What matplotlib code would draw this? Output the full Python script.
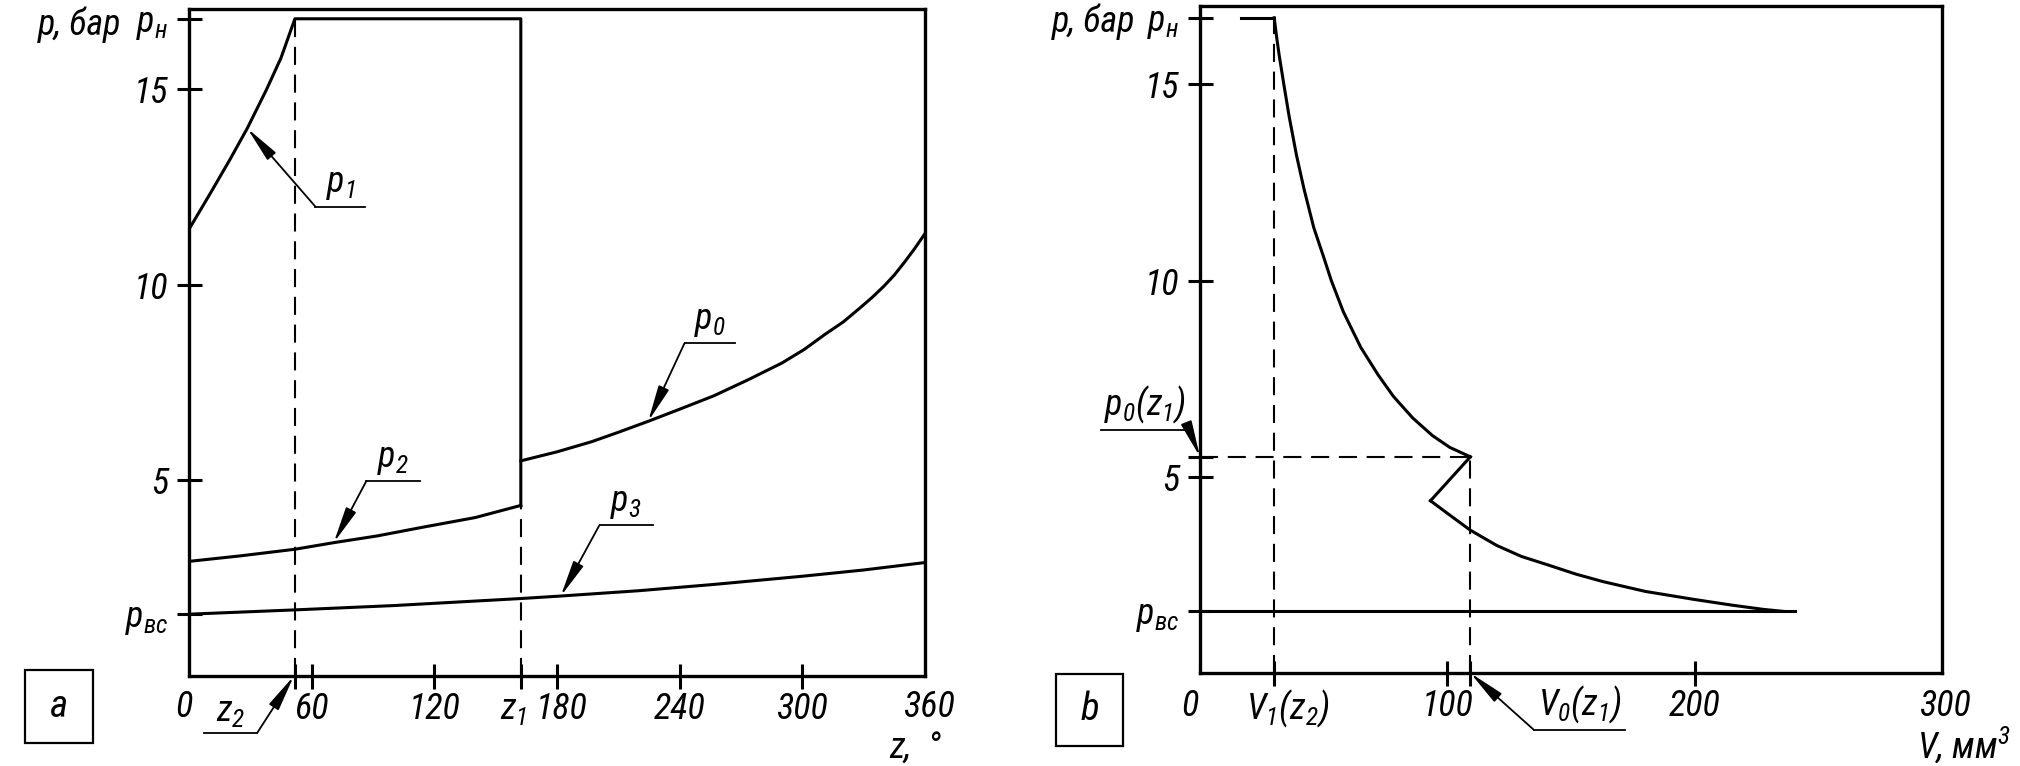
import matplotlib
matplotlib.use('Agg')
import matplotlib.pyplot as plt
from matplotlib import font_manager as fm
from matplotlib.patches import Rectangle
from matplotlib.transforms import ScaledTranslation

# pick a narrow face if one is installed (drawing font in reference is a narrow engineering italic)
_names = {f.name for f in fm.fontManager.ttflist}
FAM, STRETCH, NARROW = 'Liberation Sans', 'normal', False
for cand in ['Liberation Sans Narrow', 'Roboto Condensed', 'Open Sans Condensed']:
    if cand in _names:
        FAM, STRETCH, NARROW = cand, 'normal', True
        break
else:
    for f in fm.fontManager.ttflist:
        if f.name == 'DejaVu Sans' and str(f.stretch) in ('condensed', 'semi-condensed', '75', '87'):
            FAM, STRETCH, NARROW = 'DejaVu Sans', 'condensed', True
            break

plt.rcParams['font.family'] = [FAM, 'DejaVu Sans']
plt.rcParams['font.style'] = 'italic'
plt.rcParams['font.stretch'] = STRETCH
plt.rcParams['mathtext.fontset'] = 'custom'
_spec = f'{FAM}:italic:stretch={STRETCH}'
plt.rcParams['mathtext.it'] = _spec
plt.rcParams['mathtext.rm'] = _spec
plt.rcParams['mathtext.sf'] = _spec
plt.rcParams['mathtext.bf'] = _spec
plt.rcParams['lines.scale_dashes'] = False

# ---------------- data: panel a (p vs angle z) ----------------
Z2 = 51.8
Z1 = 162.3
P_N_A = 16.8
P_VS_A = 1.58
z_p1 = [0, 10, 20, 28.5, 38, 45, 51.8]
p1 = [11.42, 12.3, 13.2, 14.0, 15.0, 15.8, 16.8]
z_p2 = [0, 25, 51.8, 71, 92, 114, 140, 162.3]
p2 = [2.93, 3.07, 3.24, 3.41, 3.58, 3.80, 4.05, 4.36]
z_p0 = [162.3, 180, 197, 210, 224.6, 240, 256.6, 273, 290, 301, 311, 320, 328, 334, 340, 345, 350, 355, 360]
p0 = [5.50, 5.73, 5.99, 6.23, 6.51, 6.82, 7.16, 7.56, 8.0, 8.35, 8.73, 9.05, 9.4, 9.67, 9.97, 10.25, 10.58, 10.93, 11.31]
z_p3 = [0, 51.8, 100, 162.3, 180.6, 220, 256.6, 300, 330, 360]
p3 = [1.58, 1.69, 1.80, 1.98, 2.04, 2.18, 2.34, 2.55, 2.71, 2.90]
a_xticks = [Z2, 60, 120, Z1, 180, 240, 300]
a_xticklabels = ['', '60', '120', '$z_1$', '180', '240', '300']
a_yticks = [P_VS_A, 5, 10, 15, P_N_A]
a_yticklabels = ['$p_{вс}$', '5', '10', '15', '$p_{н}$']

# ---------------- data: panel b (p vs volume V) ----------------
V1 = 30.0
V0 = 109.3
P_N_B = 16.7
P_VS_B = 1.57
P0_Z1 = 5.51
V_start_top = 16.7
V_vs_end = 240.6
v_exp = [30.0, 31.0, 32.0, 33.9, 36.0, 39.0, 42.0, 46.0, 50.0, 53.1, 58.0, 65.0, 72.0, 78.2, 86.0, 94.0, 101.0, 109.3]
p_exp = [16.7, 16.2, 15.75, 15.0, 14.2, 13.2, 12.35, 11.35, 10.6, 10.0, 9.2, 8.3, 7.6, 7.05, 6.5, 6.05, 5.75, 5.51]
v_notch = [109.3, 93.2]
p_notch = [5.51, 4.39]
v_low = [93.2, 100, 109.3, 120, 130, 141.4, 152, 162.9, 180, 199.3, 215, 228, 236]
p_low = [4.39, 4.07, 3.64, 3.25, 2.97, 2.74, 2.52, 2.33, 2.08, 1.88, 1.73, 1.62, 1.57]
b_xticks = [V1, 100, V0, 200]
b_xticklabels = ['$V_1(z_2)$', '100', '', '200']
b_yticks = [P_VS_B, 5, P0_Z1, 10, 15, P_N_B]
b_yticklabels = ['$p_{вс}$', '5', '', '10', '15', '$p_{н}$']

W, H = 2020, 766
fig = plt.figure(figsize=(W / 100, H / 100), dpi=100)

def fx(px):
    return px / W

def fy(py):
    return 1 - py / H

LW = 2.2
DASH = (13, 7)
TICKFS = 26 if NARROW else 21
LBLFS = 26 if NARROW else 22

def style_axes(ax):
    for s in ax.spines.values():
        s.set_linewidth(2.4)
    ax.tick_params(direction='inout', length=18, width=2.2, labelsize=TICKFS)
    ax.tick_params(axis='x', pad=2)
    ax.tick_params(axis='y', pad=6)

def nudge_xlabel(ax, index, dx_pt):
    tick = ax.xaxis.get_major_ticks()[index]
    lab = tick.label1
    lab.set_transform(lab.get_transform() + ScaledTranslation(dx_pt / 72, 0, fig.dpi_scale_trans))

ARROW = dict(arrowstyle='-|>,head_length=1.1,head_width=0.17', lw=1.3, color='black',
             mutation_scale=20, shrinkA=0, shrinkB=0)

def leader(ax, label, tip, shelf_x0, shelf_x1, shelf_y, side='left', fs=LBLFS):
    start = (shelf_x0, shelf_y) if side == 'left' else (shelf_x1, shelf_y)
    ax.plot([shelf_x0, shelf_x1], [shelf_y, shelf_y], color='black', lw=1.3, clip_on=False)
    ax.annotate('', xy=tip, xytext=start, arrowprops=ARROW, annotation_clip=False)
    ax.annotate(label, xy=((shelf_x0 + shelf_x1) / 2, shelf_y), xytext=(0, 3),
                textcoords='offset points', ha='center', va='bottom', fontsize=fs,
                annotation_clip=False)

# ================= panel a =================
axa = fig.add_axes([fx(189), fy(676), fx(925) - fx(189), fy(9) - fy(676)])
axa.set_xlim(0, 360)
axa.set_ylim(0, 17.05)
style_axes(axa)

axa.plot(z_p1 + [Z1, Z1], p1 + [P_N_A, p2[-1]], color='black', lw=LW)
axa.plot(z_p2, p2, color='black', lw=LW)
axa.plot(z_p0, p0, color='black', lw=LW)
axa.plot(z_p3, p3, color='black', lw=LW)
axa.plot([Z2, Z2], [0, P_N_A], color='black', lw=1.5, dashes=DASH)
axa.plot([Z1, Z1], [0, p2[-1]], color='black', lw=1.5, dashes=DASH)

axa.set_xticks(a_xticks)
axa.set_xticklabels(a_xticklabels)
axa.set_yticks(a_yticks)
axa.set_yticklabels(a_yticklabels)
nudge_xlabel(axa, 3, -5)
nudge_xlabel(axa, 4, 3)

leader(axa, '$p_1$', (28.5, 14.0), 61.8, 86.3, 12.0)
leader(axa, '$p_0$', (224.6, 6.51), 242.4, 266.9, 8.51)
leader(axa, '$p_2$', (70.8, 3.41), 86.7, 112.9, 4.98)
leader(axa, '$p_3$', (181.8, 2.04), 200.8, 226.9, 3.86)
leader(axa, '$z_2$', (51.3, 0), 7.5, 33.4, -1.45, side='right')

axa.text(-2.5, -0.8, '0', ha='center', va='center', fontsize=TICKFS)
axa.text(362, -0.8, '360', ha='center', va='center', fontsize=TICKFS)

fig.text(fx(80), fy(25), 'р, бар', ha='center', va='center', fontsize=TICKFS)
fig.text(fx(915), fy(748), 'z,  °', ha='center', va='center', fontsize=TICKFS)

# ================= panel b =================
axb = fig.add_axes([fx(1200), fy(673), fx(1942) - fx(1200), fy(6) - fy(673)])
axb.set_xlim(0, 300)
axb.set_ylim(0, 17.0)
style_axes(axb)

axb.plot([V_start_top, V1], [P_N_B, P_N_B], color='black', lw=LW)
axb.plot(v_exp, p_exp, color='black', lw=LW)
axb.plot(v_notch, p_notch, color='black', lw=LW)
axb.plot(v_low, p_low, color='black', lw=LW)
axb.plot([0, V_vs_end], [P_VS_B, P_VS_B], color='black', lw=LW)
axb.plot([V1, V1], [0, P_N_B], color='black', lw=1.5, dashes=DASH)
axb.plot([V0, V0], [0, P0_Z1], color='black', lw=1.5, dashes=DASH)
axb.plot([0, V0], [P0_Z1, P0_Z1], color='black', lw=1.5, dashes=DASH)

axb.set_xticks(b_xticks)
axb.set_xticklabels(b_xticklabels)
axb.set_yticks(b_yticks)
axb.set_yticklabels(b_yticklabels)
nudge_xlabel(axb, 0, 10)

leader(axb, '$p_0(z_1)$', (0, P0_Z1), -40, -4.4, 6.2, side='right')
leader(axb, '$V_0(z_1)$', (V0, 0), 135, 172, -1.45, side='left')

axb.text(-4, -0.85, '0', ha='center', va='center', fontsize=TICKFS)
axb.text(301, -0.85, '300', ha='center', va='center', fontsize=TICKFS)

fig.text(fx(1094), fy(22), 'р, бар', ha='center', va='center', fontsize=TICKFS)
fig.text(fx(1964), fy(745), 'V, мм$^3$', ha='center', va='center', fontsize=TICKFS)

# ================= panel letters =================
for (x0, y0, x1, y1, letter) in [(25, 670, 93, 743, 'a'), (1056, 674, 1123, 746, 'b')]:
    fig.patches.append(Rectangle((fx(x0), fy(y1)), fx(x1) - fx(x0), fy(y0) - fy(y1),
                                 transform=fig.transFigure, fill=False, lw=1.6,
                                 edgecolor='black'))
    fig.text(fx((x0 + x1) / 2), fy((y0 + y1) / 2), letter, ha='center', va='center',
             fontsize=28)

fig.savefig('out.png', dpi=100, facecolor='white')
